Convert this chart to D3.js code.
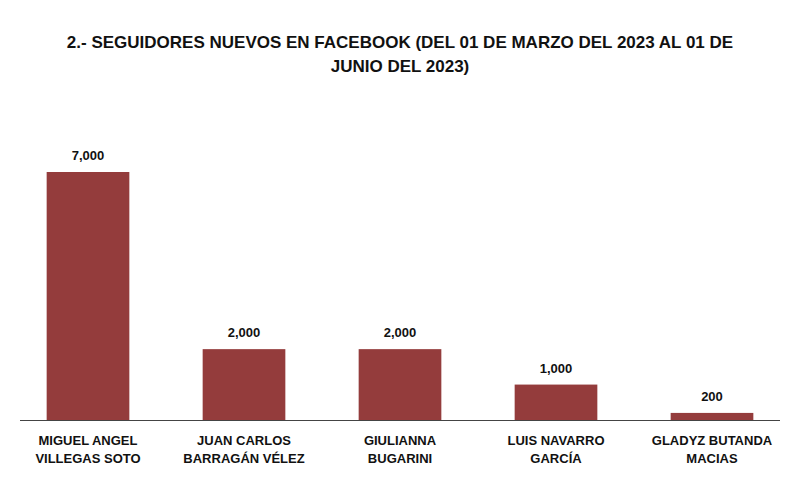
<!DOCTYPE html>
<html><head><meta charset="utf-8">
<script src="https://cdn.jsdelivr.net/npm/d3@7"></script>
<style>body{margin:0;background:#fff}text{font-family:"Liberation Sans",Arial,sans-serif;font-weight:bold;fill:#111}</style>
</head><body>
<script>
var categories = [["MIGUEL ANGEL","VILLEGAS SOTO"],["JUAN CARLOS","BARRAGÁN VÉLEZ"],["GIULIANNA","BUGARINI"],["LUIS NAVARRO","GARCÍA"],["GLADYZ BUTANDA","MACIAS"]];
var values = [7000, 2000, 2000, 1000, 200];
var titleLines = ["2.- SEGUIDORES NUEVOS EN FACEBOOK (DEL 01 DE MARZO DEL 2023 AL 01 DE","JUNIO DEL 2023)"];

var width = 800, height = 497, baseline = 420;
var svg = d3.select("body").append("svg").attr("width", width).attr("height", height);

var x = d3.scaleBand().domain(d3.range(values.length)).range([10, 790]).paddingInner(0.47).paddingOuter(0.235);
var y = d3.scaleLinear().domain([0, 7000]).range([baseline, 172]);

svg.selectAll(".title").data(titleLines).enter().append("text")
.attr("x", 400).attr("y", function(d,i){ return 48 + i*24; })
.attr("text-anchor","middle").style("font-size","17px").text(function(d){ return d; });

svg.selectAll(".bar").data(values).enter().append("rect")
.attr("x", function(d,i){ return x(i); })
.attr("y", function(d){ return y(d); })
.attr("width", x.bandwidth())
.attr("height", function(d){ return baseline - y(d); })
.attr("fill", "#943c3c");

svg.selectAll(".val").data(values).enter().append("text")
.attr("x", function(d,i){ return x(i) + x.bandwidth()/2; })
.attr("y", function(d){ return y(d) - 12; })
.attr("text-anchor","middle").style("font-size","13px")
.text(function(d){ return d3.format(",")(d); });

svg.append("line").attr("x1",20).attr("x2",780).attr("y1",baseline+0.5).attr("y2",baseline+0.5)
.attr("stroke","#444").attr("stroke-width",1);

var cat = svg.selectAll(".cat").data(categories).enter().append("text")
.attr("text-anchor","middle").style("font-size","13px");
cat.selectAll("tspan").data(function(d,i){ return d.map(function(s){ return {s:s,i:i}; }); }).enter().append("tspan")
.attr("x", function(d){ return x(d.i) + x.bandwidth()/2; })
.attr("y", function(d,j){ return 445 + j*18; })
.text(function(d){ return d.s; });
</script>
</body></html>
